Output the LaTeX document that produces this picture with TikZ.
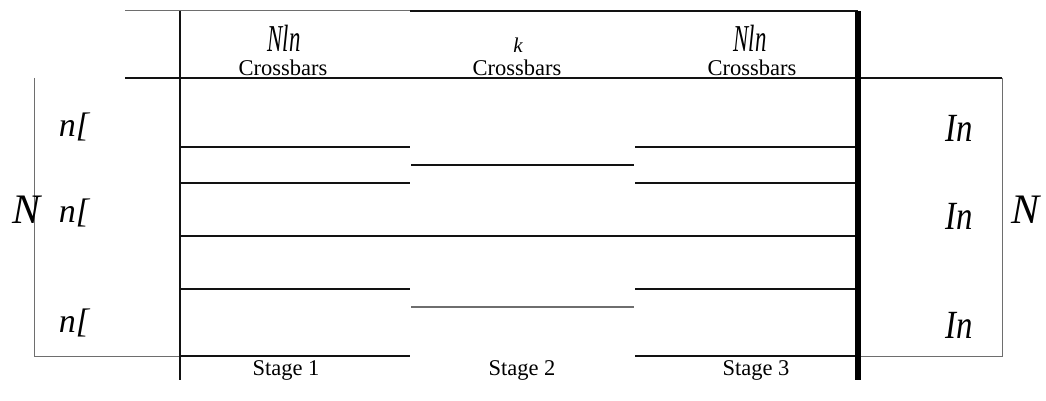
\documentclass[tikz,border=0pt]{standalone}
\usepackage{fontspec}
\setmainfont{Liberation Serif}
\usepackage{graphicx}
\usetikzlibrary{positioning}
\definecolor{clink}{HTML}{121212}
\definecolor{clgray}{HTML}{6E6E6E}

\begin{document}
\begin{tikzpicture}[x=1pt,y=-1pt,
    wire/.style={draw=clink,line width=1.1pt},
    frame/.style={draw=clgray,line width=1pt},
    captext/.style={font=\fontsize{22.5}{26}\selectfont,inner sep=0pt},
    bigtext/.style={font=\fontsize{40}{44}\selectfont\itshape,inner sep=0pt}]
  \useasboundingbox (0,0) rectangle (1046,401);
  % header rules
  \draw[frame] (125,11) -- (410,11);
  \draw[wire,line width=1.6pt] (410,11) -- (858,11);
  \draw[wire] (125,78) -- (1002,78);
  % outer frames
  \draw[frame] (34,78) -- (34,356) -- (180,356);
  \draw[frame] (858,356) -- (1002,356) -- (1002,78);
  % stage 1 and stage 3 crossbars
  \foreach \yy in {147,183,289,356} {
    \draw[wire] (180,\yy) -- (410,\yy);
    \draw[wire] (635,\yy) -- (858,\yy);
  }
  \draw[wire] (180,236) -- (858,236);
  % stage 2 crossbars
  \draw[wire] (411,165) -- (634,165);
  \draw[frame,line width=1.3pt] (411,307) -- (634,307);
  % stage borders
  \draw[wire,line width=1.5pt] (180,11) -- (180,380);
  \draw[draw=black,line width=6pt] (858,11) -- (858,380);
  % headers
  \node[font=\fontsize{38}{42}\selectfont\itshape,inner sep=0pt] (num1) at (284,38) {\scalebox{0.6}[1]{Nln}};
  \node[captext] (cb1) at (283,68) {Crossbars};
  \node[font=\fontsize{21}{24}\selectfont\itshape,inner sep=0pt] (num2) at (518,45) {k};
  \node[captext] (cb2) at (517,68) {Crossbars};
  \node[font=\fontsize{38}{42}\selectfont\itshape,inner sep=0pt] (num3) at (750,38) {\scalebox{0.6}[1]{Nln}};
  \node[captext] (cb3) at (752,68) {Crossbars};
  % stage names
  \node[captext] (st1) at (286,370) {Stage 1};
  \node[captext] (st2) at (522,370) {Stage 2};
  \node[captext] (st3) at (756,370) {Stage 3};
  % group labels
  \foreach \yy/\nm in {127/a,213/b,323/c} {
    \node[font=\fontsize{34}{38}\selectfont\itshape,inner sep=0pt] (in\nm) at (74,\yy) {n[};
  }
  \foreach \yy/\nm in {128/a,216/b,325/c} {
    \node[bigtext] (out\nm) at (959,\yy) {\scalebox{0.82}[1]{In}};
  }
  \node[bigtext,font=\fontsize{42}{46}\selectfont\itshape] (nleft) at (27,210) {N};
  \node[bigtext,font=\fontsize{42}{46}\selectfont\itshape] (nright) at (1025,210) {N};
\end{tikzpicture}
\end{document}
